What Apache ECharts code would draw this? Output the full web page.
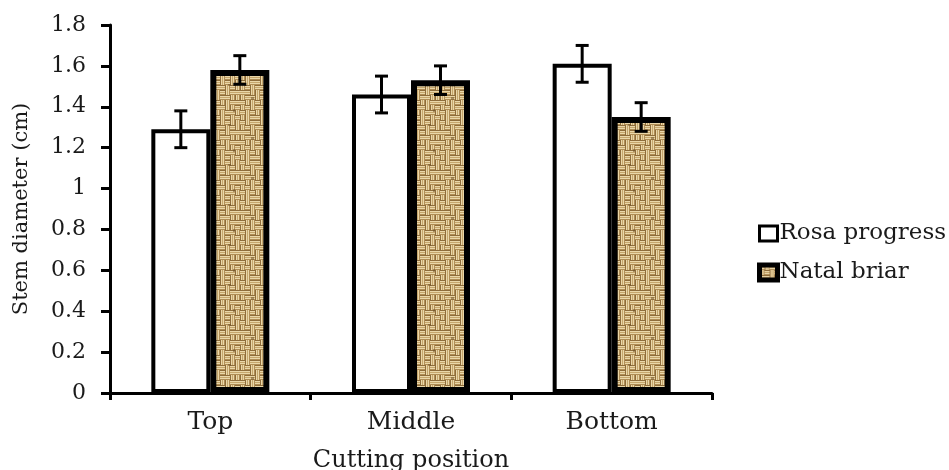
<!DOCTYPE html>
<html>
<head>
<meta charset="utf-8">
<script src="https://cdn.jsdelivr.net/npm/echarts@6/dist/echarts.min.js"></script>
<style>
  html, body { margin: 0; padding: 0; background: #ffffff; }
  #chart { width: 949px; height: 470px; }
</style>
</head>
<body>
<div id="chart"></div>
<script>
const categories = ['Top', 'Middle', 'Bottom'];
const seriesNames = ['Rosa progress', 'Natal briar'];
const rosaValues = [1.29, 1.46, 1.61];
const rosaErrors = [0.09, 0.09, 0.09];
const natalValues = [1.58, 1.53, 1.35];
const natalErrors = [0.07, 0.07, 0.07];
const yMin = 0, yMax = 1.8, yStep = 0.2;
const xAxisTitle = 'Cutting position';
const yAxisTitle = 'Stem diameter (cm)';

// burlap-like woven texture for the second series (fixed weave layout)
const weaveRows = [
  'HVHHVHVV',
  'VHVHHVHV',
  'HHVVHVHH',
  'VHHVHHVV',
  'HVVHVVHH',
  'VHVHHVVH',
  'HVHVVHHV',
  'VVHHVHVH'
];
function makeBurlap() {
  const cell = 5;
  const n = cell * 8;
  const c = document.createElement('canvas');
  c.width = n; c.height = n;
  const g = c.getContext('2d');
  g.fillStyle = '#cfb27b';
  g.fillRect(0, 0, n, n);
  for (let j = 0; j < 8; j++) {
    for (let i = 0; i < 8; i++) {
      const x = i * cell, y = j * cell;
      const horiz = weaveRows[j][i] === 'H';
      for (let k = 0; k < cell; k++) {
        const col = k === 0 ? '#8e6c3a' : (k === 1 || k === 3 ? '#ead7a9' : (k === 2 ? '#c6a66c' : '#b08d55'));
        g.fillStyle = col;
        if (horiz) g.fillRect(x, y + k, cell, 1);
        else g.fillRect(x + k, y, 1, cell);
      }
    }
  }
  g.fillStyle = 'rgba(105,75,35,0.5)';
  g.fillRect(11, 17, 3, 3);
  g.fillRect(28, 4, 3, 2);
  g.fillRect(33, 29, 2, 3);
  return c;
}
const burlap = makeBurlap();

const FONT = 'DejaVu Serif';
const TXT = '#1a1a1a';
const BAR_W = 59;

function errorSeries(values, errors, offset) {
  return {
    type: 'custom',
    z: 10,
    silent: true,
    data: values.map((v, i) => [i, v, errors[i]]),
    encode: { x: 0, y: 1 },
    renderItem: function (params, api) {
      const idx = api.value(0), v = api.value(1), e = api.value(2);
      const hi = api.coord([idx, v + e]);
      const lo = api.coord([idx, v - e]);
      const x = hi[0] + offset;
      const cap = 6.5;
      const st = { stroke: '#000', lineWidth: 3 };
      return {
        type: 'group',
        children: [
          { type: 'line', shape: { x1: x, y1: hi[1], x2: x, y2: lo[1] }, style: st },
          { type: 'line', shape: { x1: x - cap, y1: hi[1], x2: x + cap, y2: hi[1] }, style: st },
          { type: 'line', shape: { x1: x - cap, y1: lo[1], x2: x + cap, y2: lo[1] }, style: st }
        ]
      };
    }
  };
}

const chart = echarts.init(document.getElementById('chart'), null, { renderer: 'canvas' });
chart.setOption({
  animation: false,
  backgroundColor: '#ffffff',
  grid: { left: 110, right: 237, top: 25, bottom: 77, containLabel: false, outerBoundsMode: 'none' },
  legend: {
    orient: 'vertical',
    left: 752,
    top: 217,
    itemWidth: 18,
    itemHeight: 15,
    itemGap: 16,
    textStyle: { fontFamily: FONT, fontSize: 23, color: TXT, padding: [0, 0, 0, -3] },
    data: [
      { name: seriesNames[0], icon: 'rect', itemStyle: { color: '#fff', borderColor: '#000', borderWidth: 3 } },
      { name: seriesNames[1], icon: 'rect', itemStyle: { color: { image: burlap, repeat: 'repeat' }, borderColor: '#000', borderWidth: 5 } }
    ]
  },
  xAxis: {
    type: 'category',
    data: categories,
    name: xAxisTitle,
    nameLocation: 'middle',
    nameGap: 56,
    nameTextStyle: { fontFamily: FONT, fontSize: 24, color: TXT },
    axisLine: { lineStyle: { color: '#000', width: 3 } },
    axisTick: { show: true, length: 7, lineStyle: { color: '#000', width: 3 } },
    axisLabel: { fontFamily: FONT, fontSize: 25, color: TXT, margin: 17 },
    splitLine: { show: false }
  },
  yAxis: {
    type: 'value',
    min: yMin,
    max: yMax,
    interval: yStep,
    name: yAxisTitle,
    nameLocation: 'middle',
    nameGap: 78,
    nameTextStyle: { fontFamily: FONT, fontSize: 21, color: TXT },
    axisLine: { show: true, lineStyle: { color: '#000', width: 3 } },
    axisTick: { show: true, length: 9, lineStyle: { color: '#000', width: 3 } },
    axisLabel: {
      fontFamily: FONT, fontSize: 22, color: TXT, margin: 24,
      formatter: v => String(+v.toFixed(1))
    },
    splitLine: { show: false }
  },
  series: [
    {
      name: seriesNames[0],
      type: 'bar',
      barWidth: BAR_W,
      barGap: '0%',
      data: rosaValues,
      itemStyle: { color: '#ffffff', borderColor: '#000', borderWidth: 4 }
    },
    {
      name: seriesNames[1],
      type: 'bar',
      barWidth: BAR_W,
      barGap: '0%',
      data: natalValues,
      itemStyle: { color: { image: burlap, repeat: 'repeat' }, borderColor: '#000', borderWidth: 6 }
    },
    errorSeries(rosaValues, rosaErrors, -BAR_W / 2),
    errorSeries(natalValues, natalErrors, BAR_W / 2)
  ]
});
</script>
</body>
</html>
